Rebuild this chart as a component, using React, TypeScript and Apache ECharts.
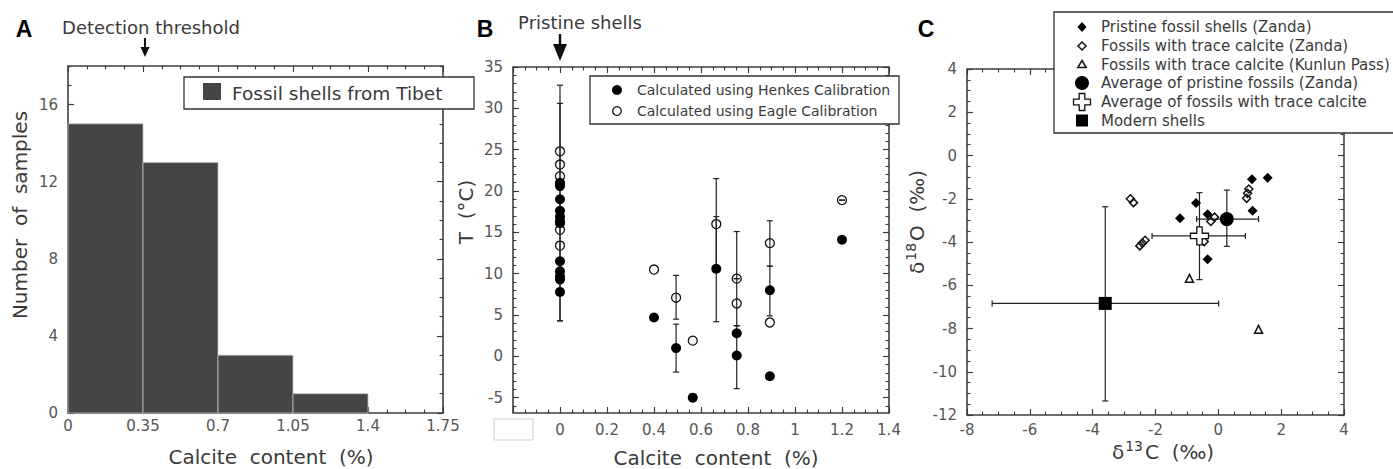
import React, { useEffect, useRef } from 'react';
import * as echarts from 'echarts';

// ---------- Panel A: histogram of calcite content ----------
const binEdges = [0, 0.35, 0.7, 1.05, 1.4];
const binCounts = [15, 13, 3, 1];
const aXLabels = [0, 0.35, 0.7, 1.05, 1.4, 1.75];
const aYLabels = [0, 4, 8, 12, 16];

// ---------- Panel B: temperature vs calcite content ----------
const henkesX = [0, 0, 0, 0, 0, 0, 0, 0, 0, 0, 0, 0.4, 0.494, 0.565, 0.665, 0.752, 0.752, 0.893, 0.893, 1.2];
const henkesT = [21.0, 20.6, 19.0, 17.6, 16.9, 16.1, 11.5, 10.3, 9.7, 9.3, 7.8, 4.7, 1.0, -5.0, 10.6, 2.8, 0.1, 8.0, -2.4, 14.1];
const eagleX = [0, 0, 0, 0, 0, 0, 0.4, 0.494, 0.565, 0.665, 0.752, 0.752, 0.893, 0.893, 1.2];
const eagleT = [24.8, 23.2, 21.8, 16.3, 15.3, 13.4, 10.5, 7.1, 1.9, 16.0, 9.4, 6.4, 13.7, 4.1, 18.9];
const bErrX = [0, 0, 0.494, 0.494, 0.665, 0.665, 0.752, 0.752, 0.752, 0.893, 0.893, 1.2];
const bErrLow = [4.3, 4.3, 4.5, -1.9, 4.2, 10.6, -3.9, 3.7, 9.4, 4.9, 10.9, 18.9];
const bErrHigh = [32.8, 30.6, 9.8, 3.9, 16.9, 21.5, 3.7, 15.1, 9.4, 10.9, 16.4, 18.9];
const bXLabels = [0, 0.2, 0.4, 0.6, 0.8, 1, 1.2, 1.4];
const bYLabels = [-5, 0, 5, 10, 15, 20, 25, 30, 35];

// ---------- Panel C: d13C vs d18O ----------
const pristineC = [-1.22, -0.71, -0.34, 1.07, 1.57, 1.09, -0.34];
const pristineO = [-2.9, -2.2, -2.72, -1.1, -1.03, -2.55, -4.8];
const traceZC = [-2.8, -2.7, -2.5, -2.42, -2.33, -0.24, -0.12, 0.9, 0.97, 0.93, -0.45];
const traceZO = [-2.0, -2.18, -4.18, -4.05, -3.92, -3.05, -2.85, -1.98, -1.55, -1.75, -3.98];
const kunlunC = [-0.92, 1.28];
const kunlunO = [-5.68, -8.04];
const avgPristine = [0.27, -2.94];
const avgPristineErrC = [-0.69, 1.28];
const avgPristineErrO = [-4.2, -1.6];
const avgTrace = [-0.6, -3.72];
const avgTraceErrC = [-2.11, 0.86];
const avgTraceErrO = [-5.74, -1.72];
const modern = [-3.6, -6.84];
const modernErrC = [-7.2, 0.01];
const modernErrO = [-11.35, -2.37];
const cXLabels = [-8, -6, -4, -2, 0, 2, 4];
const cYLabels = [-12, -10, -8, -6, -4, -2, 0, 2, 4];

const FONT = 'DejaVu Sans';
const AX = '#3a3a3a';
const TXT = '#3a3a3a';

function steps(a: number, b: number, s: number) {
  const out: number[] = [];
  const n = Math.round((b - a) / s);
  for (let i = 0; i <= n; i++) out.push(Math.round((a + i * s) * 1e6) / 1e6);
  return out;
}

function axisSet(dim: 'x' | 'y', grid: number, min: number, max: number, labels: number[], majors: number[], minors: number[], margin: number) {
  const sides = dim === 'x' ? ['bottom', 'top'] : ['left', 'right'];
  const base: any = { type: 'value', gridIndex: grid, min, max, splitLine: { show: false }, axisLine: { show: false, onZero: false } };
  const tick = (vals: number[], len: number) => ({ show: true, inside: true, length: len, customValues: vals, lineStyle: { color: AX, width: 1.1 } });
  return [
    { ...base, position: sides[0], axisTick: tick(majors, 6), axisLabel: { show: true, customValues: labels, margin, fontSize: 15, fontFamily: FONT, color: '#555', formatter: (v: number) => String(v) } },
    { ...base, position: sides[0], axisTick: tick(minors, 3.5), axisLabel: { show: false } },
    { ...base, position: sides[1], axisTick: tick(majors, 6), axisLabel: { show: false } },
    { ...base, position: sides[1], axisTick: tick(minors, 3.5), axisLabel: { show: false } },
  ];
}

const errStyle = { stroke: '#222', lineWidth: 1.2 };
const vErr = (_p: any, api: any) => {
  const x = api.value(0), lo = api.value(1), hi = api.value(2);
  const a = api.coord([x, lo]), b = api.coord([x, hi]);
  return {
    type: 'group', children: [
      { type: 'line', shape: { x1: a[0], y1: a[1], x2: b[0], y2: b[1] }, style: errStyle },
      { type: 'line', shape: { x1: a[0] - 3, y1: a[1], x2: a[0] + 3, y2: a[1] }, style: errStyle },
      { type: 'line', shape: { x1: b[0] - 3, y1: b[1], x2: b[0] + 3, y2: b[1] }, style: errStyle },
    ],
  };
};
const hErr = (_p: any, api: any) => {
  const y = api.value(0), lo = api.value(1), hi = api.value(2);
  const a = api.coord([lo, y]), b = api.coord([hi, y]);
  return {
    type: 'group', children: [
      { type: 'line', shape: { x1: a[0], y1: a[1], x2: b[0], y2: b[1] }, style: errStyle },
      { type: 'line', shape: { x1: a[0], y1: a[1] - 3, x2: a[0], y2: a[1] + 3 }, style: errStyle },
      { type: 'line', shape: { x1: b[0], y1: b[1] - 3, x2: b[0], y2: b[1] + 3 }, style: errStyle },
    ],
  };
};

const CROSS = 'path://M7,0 H13 V7 H20 V13 H13 V20 H7 V13 H0 V7 H7 Z';

function crossPts(cx: number, cy: number, L: number, t: number) {
  return [
    [cx - t, cy - L], [cx + t, cy - L], [cx + t, cy - t], [cx + L, cy - t], [cx + L, cy + t], [cx + t, cy + t],
    [cx + t, cy + L], [cx - t, cy + L], [cx - t, cy + t], [cx - L, cy + t], [cx - L, cy - t], [cx - t, cy - t],
  ];
}

function text(x: number, y: number, s: string, size: number, extra: any = {}) {
  return {
    type: 'text', x, y, z: 100, rotation: extra.rotation || 0,
    style: { text: s, x: 0, y: 0, fontSize: size, fontFamily: extra.family || FONT, fontWeight: extra.weight || 'normal', fill: extra.fill || TXT, align: extra.align || 'center', verticalAlign: 'middle', rich: extra.rich },
  };
}

const deltaRich = {
  a: { fontSize: 20, lineHeight: 26, fontFamily: FONT, fill: TXT, verticalAlign: 'middle' },
  s: { fontSize: 14, lineHeight: 14, fontFamily: FONT, fill: TXT, verticalAlign: 'top', padding: [0, 2, 0, 1] },
};

function buildOption() {
  const xAxis = [
    ...axisSet('x', 0, 0, 1.75, aXLabels, aXLabels, steps(0, 1.75, 0.0875), 5),
    ...axisSet('x', 1, -0.2, 1.4, bXLabels, steps(-0.2, 1.4, 0.2), steps(-0.2, 1.4, 0.05), 9),
    ...axisSet('x', 2, -8, 4, cXLabels, cXLabels, steps(-8, 4, 0.5), 7),
  ];
  const yAxis = [
    ...axisSet('y', 0, 0, 18, aYLabels, aYLabels, steps(0, 18, 1), 10),
    ...axisSet('y', 1, -6.85, 35, bYLabels, bYLabels, steps(-6, 35, 1), 10),
    ...axisSet('y', 2, -12, 4, cYLabels, cYLabels, steps(-12, 4, 0.5), 10),
  ];
  const gridBase = { show: true, borderColor: '#404040', borderWidth: 1.6, backgroundColor: 'transparent', containLabel: false };
  const grid = [
    { ...gridBase, left: 68, width: 375, top: 66, height: 347 },
    { ...gridBase, left: 513, width: 376, top: 67, height: 346 },
    { ...gridBase, left: 967, width: 377, top: 69, height: 346 },
  ];

  const series: any[] = [
    {
      type: 'custom', xAxisIndex: 0, yAxisIndex: 0, z: 2,
      data: binCounts.map((c, i) => [binEdges[i], binEdges[i + 1], c]),
      renderItem: (_p: any, api: any) => {
        const p0 = api.coord([api.value(0), api.value(2)]);
        const p1 = api.coord([api.value(1), 0]);
        return { type: 'rect', shape: { x: p0[0], y: p0[1], width: p1[0] - p0[0], height: p1[1] - p0[1] }, style: { fill: '#454545', stroke: '#bdbdbd', lineWidth: 0.8 } };
      },
    },
    {
      type: 'custom', xAxisIndex: 4, yAxisIndex: 4, z: 2,
      data: bErrX.map((x, i) => [x, bErrLow[i], bErrHigh[i]]),
      renderItem: vErr,
    },
    {
      type: 'scatter', name: 'Calculated using Henkes Calibration', xAxisIndex: 4, yAxisIndex: 4, z: 4,
      symbol: 'circle', symbolSize: 10, itemStyle: { color: '#000', opacity: 1 },
      data: henkesX.map((x, i) => [x, henkesT[i]]),
    },
    {
      type: 'scatter', name: 'Calculated using Eagle Calibration', xAxisIndex: 4, yAxisIndex: 4, z: 3,
      symbol: 'circle', symbolSize: 9, itemStyle: { color: 'rgba(255,255,255,0)', borderColor: '#111', borderWidth: 1.3, opacity: 1 },
      data: eagleX.map((x, i) => [x, eagleT[i]]),
    },
    // Panel C
    {
      type: 'custom', xAxisIndex: 8, yAxisIndex: 8, z: 2,
      data: [
        [avgPristine[0], avgPristineErrO[0], avgPristineErrO[1]],
        [avgTrace[0], avgTraceErrO[0], avgTraceErrO[1]],
        [modern[0], modernErrO[0], modernErrO[1]],
      ],
      renderItem: vErr,
    },
    {
      type: 'custom', xAxisIndex: 8, yAxisIndex: 8, z: 2,
      data: [
        [avgPristine[1], avgPristineErrC[0], avgPristineErrC[1]],
        [avgTrace[1], avgTraceErrC[0], avgTraceErrC[1]],
        [modern[1], modernErrC[0], modernErrC[1]],
      ],
      renderItem: hErr,
    },
    {
      type: 'scatter', name: 'Pristine fossil shells (Zanda)', xAxisIndex: 8, yAxisIndex: 8, z: 4,
      symbol: 'diamond', symbolSize: 10, itemStyle: { color: '#000', opacity: 1 },
      data: pristineC.map((c, i) => [c, pristineO[i]]),
    },
    {
      type: 'scatter', name: 'Fossils with trace calcite (Zanda)', xAxisIndex: 8, yAxisIndex: 8, z: 4,
      symbol: 'diamond', symbolSize: 8, itemStyle: { color: 'rgba(255,255,255,0)', borderColor: '#111', borderWidth: 1.5, opacity: 1 },
      data: traceZC.map((c, i) => [c, traceZO[i]]),
    },
    {
      type: 'scatter', name: 'Fossils with trace calcite (Kunlun Pass)', xAxisIndex: 8, yAxisIndex: 8, z: 4,
      symbol: 'triangle', symbolSize: 8, itemStyle: { color: 'rgba(255,255,255,0)', borderColor: '#111', borderWidth: 1.5, opacity: 1 },
      data: kunlunC.map((c, i) => [c, kunlunO[i]]),
    },
    {
      type: 'scatter', name: 'Average of pristine fossils (Zanda)', xAxisIndex: 8, yAxisIndex: 8, z: 5,
      symbol: 'circle', symbolSize: 14, itemStyle: { color: '#000', opacity: 1 },
      data: [avgPristine],
    },
    {
      type: 'scatter', name: 'Average of fossils with trace calcite', xAxisIndex: 8, yAxisIndex: 8, z: 5,
      symbol: CROSS, symbolSize: 18, itemStyle: { color: '#fff', borderColor: '#111', borderWidth: 1.3, opacity: 1 },
      data: [avgTrace],
    },
    {
      type: 'scatter', name: 'Modern shells', xAxisIndex: 8, yAxisIndex: 8, z: 5,
      symbol: 'rect', symbolSize: 13, itemStyle: { color: '#000', opacity: 1 },
      data: [modern],
    },
  ];

  const cRows = [27, 46, 64.5, 83, 102, 120.5];
  const cNames = [
    'Pristine fossil shells (Zanda)',
    'Fossils with trace calcite (Zanda)',
    'Fossils with trace calcite (Kunlun Pass)',
    'Average of pristine fossils (Zanda)',
    'Average of fossils with trace calcite',
    'Modern shells',
  ];
  const ix = 1082;
  const graphic: any[] = [
    // panel letters
    text(24, 29, 'A', 23, { family: 'Liberation Sans', weight: 'bold', fill: '#000' }),
    text(485, 29, 'B', 23, { family: 'Liberation Sans', weight: 'bold', fill: '#000' }),
    text(926, 29, 'C', 23, { family: 'Liberation Sans', weight: 'bold', fill: '#000' }),
    // annotations
    text(151, 27, 'Detection threshold', 18),
    { type: 'line', z: 100, shape: { x1: 145, y1: 38, x2: 145, y2: 50 }, style: { stroke: '#111', lineWidth: 2 } },
    { type: 'polygon', z: 100, shape: { points: [[140.5, 47], [149.5, 47], [145, 57]] }, style: { fill: '#111' } },
    text(580, 22, 'Pristine shells', 18),
    { type: 'line', z: 100, shape: { x1: 560, y1: 34, x2: 560, y2: 48 }, style: { stroke: '#111', lineWidth: 2.5 } },
    { type: 'polygon', z: 100, shape: { points: [[553, 44], [567, 44], [560, 61]] }, style: { fill: '#111' } },
    // axis titles
    text(20, 215, 'Number  of  samples', 20, { rotation: Math.PI / 2 }),
    text(271, 457, 'Calcite  content  (%)', 20),
    text(466, 212, 'T  (°C)', 20, { rotation: Math.PI / 2 }),
    text(716, 458, 'Calcite  content  (%)', 20),
    text(917, 222, '{a|δ}{s|18}{a|O  (‰)}', 20, { rotation: Math.PI / 2, rich: deltaRich }),
    text(1163, 452, '{a|δ}{s|13}{a|C  (‰)}', 20, { rich: deltaRich }),
    // blank box under panel B
    { type: 'rect', z: 100, shape: { x: 494, y: 419, width: 39, height: 21 }, style: { fill: '#fff', stroke: '#cfcfcf', lineWidth: 1 } },
    // legend A
    { type: 'rect', z: 99, shape: { x: 184, y: 77, width: 290, height: 32 }, style: { fill: '#fff', stroke: '#333', lineWidth: 1.3 } },
    { type: 'rect', z: 100, shape: { x: 203, y: 83, width: 18, height: 17 }, style: { fill: '#454545' } },
    text(232, 93, 'Fossil shells from Tibet', 18.5, { align: 'left' }),
    // legend B
    { type: 'rect', z: 99, shape: { x: 590, y: 76, width: 309, height: 48 }, style: { fill: '#fff', stroke: '#333', lineWidth: 1.3 } },
    { type: 'circle', z: 100, shape: { cx: 617, cy: 90, r: 5 }, style: { fill: '#000' } },
    { type: 'circle', z: 100, shape: { cx: 617, cy: 111, r: 4.3 }, style: { fill: 'none', stroke: '#111', lineWidth: 1.3 } },
    text(637, 90, 'Calculated using Henkes Calibration', 14, { align: 'left' }),
    text(637, 111, 'Calculated using Eagle Calibration', 14, { align: 'left' }),
    // legend C
    { type: 'rect', z: 99, shape: { x: 1054, y: 12, width: 345, height: 121 }, style: { fill: '#fff', stroke: '#333', lineWidth: 1.3 } },
    { type: 'polygon', z: 100, shape: { points: [[ix, cRows[0] - 5], [ix + 4.5, cRows[0]], [ix, cRows[0] + 5], [ix - 4.5, cRows[0]]] }, style: { fill: '#000' } },
    { type: 'polygon', z: 100, shape: { points: [[ix, cRows[1] - 4], [ix + 4, cRows[1]], [ix, cRows[1] + 4], [ix - 4, cRows[1]]] }, style: { fill: 'none', stroke: '#111', lineWidth: 1.5 } },
    { type: 'polygon', z: 100, shape: { points: [[ix, cRows[2] - 4], [ix + 4.2, cRows[2] + 3], [ix - 4.2, cRows[2] + 3]] }, style: { fill: 'none', stroke: '#111', lineWidth: 1.5 } },
    { type: 'circle', z: 100, shape: { cx: ix, cy: cRows[3], r: 7 }, style: { fill: '#000' } },
    { type: 'polygon', z: 100, shape: { points: crossPts(ix, cRows[4], 8.5, 2.8) }, style: { fill: '#fff', stroke: '#111', lineWidth: 1.3 } },
    { type: 'rect', z: 100, shape: { x: ix - 6, y: cRows[5] - 6, width: 12, height: 12 }, style: { fill: '#000' } },
    ...cNames.map((n, i) => text(1101, cRows[i], n, 15, { align: 'left' })),
  ];

  return { animation: false, backgroundColor: '#fff', grid, xAxis, yAxis, series, graphic };
}

export default function App() {
  const ref = useRef<HTMLDivElement>(null);
  useEffect(() => {
    document.body.style.margin = '0';
    const chart = echarts.init(ref.current!, null, { renderer: 'svg' });
    chart.setOption(buildOption() as any);
    return () => chart.dispose();
  }, []);
  return <div ref={ref} style={{ position: 'absolute', left: 0, top: 0, width: 1393, height: 469 }} />;
}
